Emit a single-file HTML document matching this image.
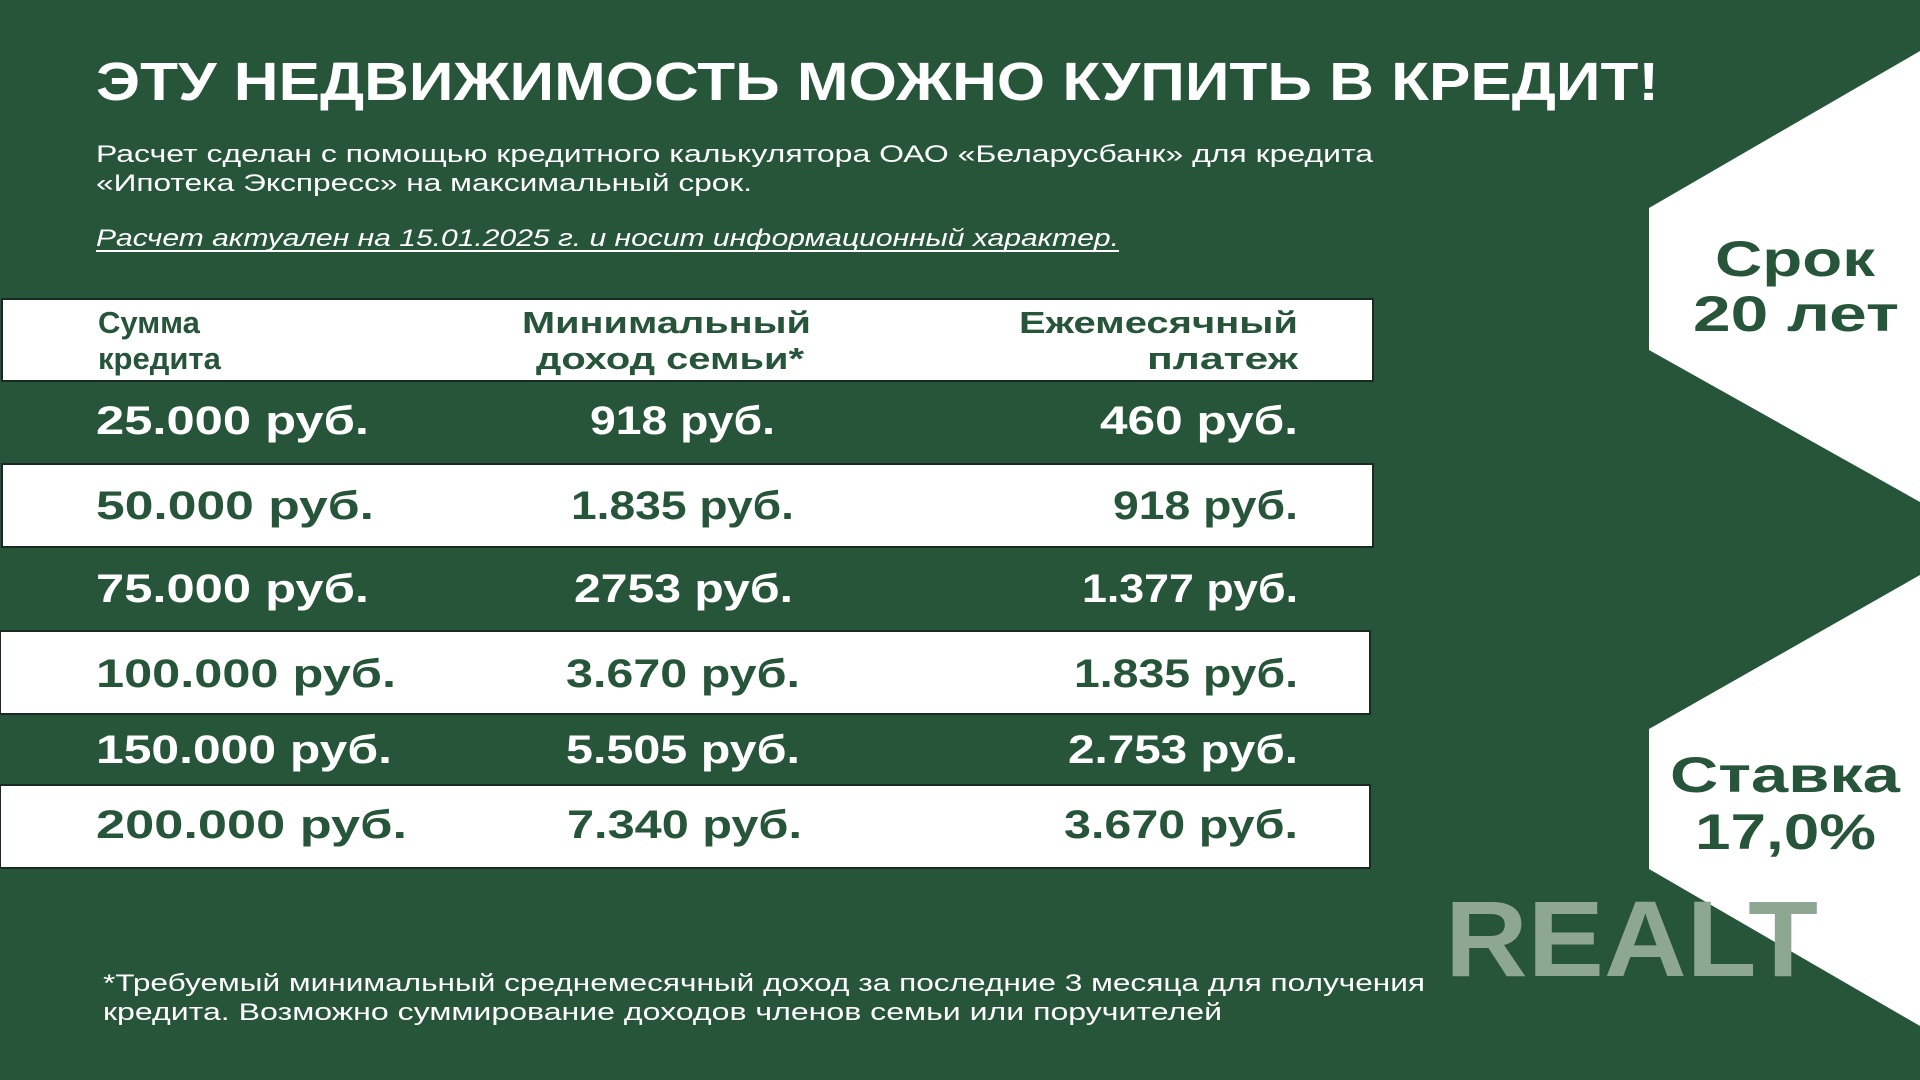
<!DOCTYPE html>
<html><head><meta charset="utf-8"><style>html,body{margin:0;padding:0;background:#27553a;}svg{display:block}</style></head>
<body>
<svg width="1920" height="1080" viewBox="0 0 1920 1080" xmlns="http://www.w3.org/2000/svg" font-family="Liberation Sans, sans-serif">
<rect width="1920" height="1080" fill="#27553a"/>
<polygon points="1920,51 1649,208 1649,350 1920,502" fill="#fff"/>
<polygon points="1920,575 1649,729 1649,869 1920,1026" fill="#fff"/>
<text x="96" y="100" font-size="54" font-weight="bold" fill="#fff" textLength="1563" lengthAdjust="spacingAndGlyphs">ЭТУ НЕДВИЖИМОСТЬ МОЖНО КУПИТЬ В КРЕДИТ!</text>
<text x="96" y="162" font-size="24" fill="#fff" textLength="1277" lengthAdjust="spacingAndGlyphs">Расчет сделан с помощью кредитного калькулятора ОАО «Беларусбанк» для кредита</text>
<text x="96" y="191" font-size="24" fill="#fff" textLength="656" lengthAdjust="spacingAndGlyphs">«Ипотека Экспресс» на максимальный срок.</text>
<text x="96" y="246" font-size="24" font-style="italic" fill="#fff" textLength="1023" lengthAdjust="spacingAndGlyphs">Расчет актуален на 15.01.2025 г. и носит информационный характер.</text>
<rect x="96" y="250" width="1023" height="2" fill="#fff"/>
<g stroke="#1a2a20" stroke-width="2" fill="#fff">
<rect x="2" y="299" width="1371" height="82"/>
<rect x="2" y="464" width="1371" height="83"/>
<rect x="0" y="631" width="1370" height="83"/>
<rect x="0" y="785" width="1370" height="83"/>
</g>
<g font-weight="bold" font-size="31" fill="#27553a">
<text x="98" y="333">Сумма</text>
<text x="98" y="369">кредита</text>
<text x="522" y="333" textLength="289" lengthAdjust="spacingAndGlyphs">Минимальный</text>
<text x="536" y="369" textLength="268" lengthAdjust="spacingAndGlyphs">доход семьи*</text>
<text x="1019" y="333" textLength="279" lengthAdjust="spacingAndGlyphs">Ежемесячный</text>
<text x="1147" y="369" textLength="151" lengthAdjust="spacingAndGlyphs">платеж</text>
</g>
<g font-weight="bold" font-size="40">
<g fill="#fff">
<text x="96" y="434" textLength="273" lengthAdjust="spacingAndGlyphs">25.000 руб.</text>
<text x="590" y="434" textLength="185" lengthAdjust="spacingAndGlyphs">918 руб.</text>
<text x="1100" y="434" textLength="198" lengthAdjust="spacingAndGlyphs">460 руб.</text>
<text x="96" y="602" textLength="273" lengthAdjust="spacingAndGlyphs">75.000 руб.</text>
<text x="574" y="602" textLength="219" lengthAdjust="spacingAndGlyphs">2753 руб.</text>
<text x="1082" y="602" textLength="216" lengthAdjust="spacingAndGlyphs">1.377 руб.</text>
<text x="96" y="763" textLength="296" lengthAdjust="spacingAndGlyphs">150.000 руб.</text>
<text x="566" y="763" textLength="234" lengthAdjust="spacingAndGlyphs">5.505 руб.</text>
<text x="1068" y="763" textLength="230" lengthAdjust="spacingAndGlyphs">2.753 руб.</text>
</g>
<g fill="#27553a">
<text x="96" y="519" textLength="278" lengthAdjust="spacingAndGlyphs">50.000 руб.</text>
<text x="571" y="519" textLength="223" lengthAdjust="spacingAndGlyphs">1.835 руб.</text>
<text x="1113" y="519" textLength="185" lengthAdjust="spacingAndGlyphs">918 руб.</text>
<text x="96" y="687" textLength="300" lengthAdjust="spacingAndGlyphs">100.000 руб.</text>
<text x="566" y="687" textLength="234" lengthAdjust="spacingAndGlyphs">3.670 руб.</text>
<text x="1074" y="687" textLength="224" lengthAdjust="spacingAndGlyphs">1.835 руб.</text>
<text x="96" y="838" textLength="311" lengthAdjust="spacingAndGlyphs">200.000 руб.</text>
<text x="567" y="838" textLength="235" lengthAdjust="spacingAndGlyphs">7.340 руб.</text>
<text x="1064" y="838" textLength="234" lengthAdjust="spacingAndGlyphs">3.670 руб.</text>
</g>
</g>
<text x="1445" y="976" font-size="108" font-weight="bold" fill="#8ea792" textLength="373" lengthAdjust="spacingAndGlyphs">REALT</text>
<g font-weight="bold" font-size="50" fill="#27553a">
<text x="1715" y="276" textLength="160" lengthAdjust="spacingAndGlyphs">Срок</text>
<text x="1693" y="331" textLength="206" lengthAdjust="spacingAndGlyphs">20 лет</text>
<text x="1670" y="792" textLength="230" lengthAdjust="spacingAndGlyphs">Ставка</text>
<text x="1695" y="849" textLength="181" lengthAdjust="spacingAndGlyphs">17,0%</text>
</g>
<text x="103" y="991" font-size="24" fill="#fff" textLength="1322" lengthAdjust="spacingAndGlyphs">*Требуемый минимальный среднемесячный доход за последние 3 месяца для получения</text>
<text x="103" y="1020" font-size="24" fill="#fff" textLength="1119" lengthAdjust="spacingAndGlyphs">кредита. Возможно суммирование доходов членов семьи или поручителей</text>
</svg>
</body></html>
